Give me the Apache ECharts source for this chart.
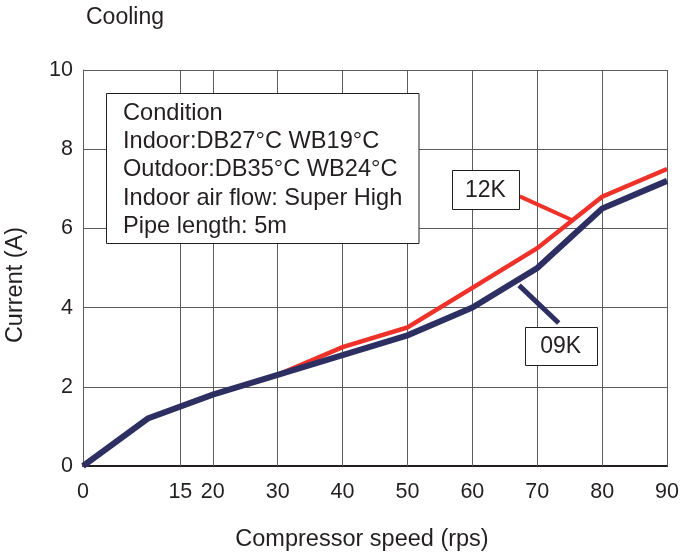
<!DOCTYPE html>
<html>
<head>
<meta charset="utf-8">
<script src="https://cdn.jsdelivr.net/npm/echarts@6/dist/echarts.min.js"></script>
<style>html,body{margin:0;padding:0;background:#fff}#c{width:682px;height:559px}</style>
</head>
<body>
<div id="c"></div>
<script>
// ---- data ----
const speed = [0, 10, 20, 30, 40, 50, 60, 70, 80, 90];
const current09K = [0, 1.2, 1.8, 2.3, 2.8, 3.3, 4.0, 5.0, 6.5, 7.2];
const current12K = [0, 1.2, 1.8, 2.3, 3.0, 3.5, 4.5, 5.5, 6.8, 7.5];
const xTickLabels = [0, 15, 20, 30, 40, 50, 60, 70, 80, 90];
const yTicks = [0, 2, 4, 6, 8, 10];
const conditionLines = ['Condition', 'Indoor:DB27°C WB19°C', 'Outdoor:DB35°C WB24°C', 'Indoor air flow: Super High', 'Pipe length: 5m'];
const seriesNames = ['12K', '09K'];
// label anchors in data units: [boxX, boxY, leaderFromX, leaderFromY, leaderToX, leaderToY]
const label12K = [62.0, 6.97, 67.3, 6.81, 75.5, 6.2];
const label09K = [73.6, 3.03, 73.3, 3.61, 67.2, 4.56];

const FONT = 'Liberation Sans';
const TXT = '#231f20';
const RED = '#ee3129';
const NAVY = '#2d2f62';
const GRID = '#5c5c5c';

const chart = echarts.init(document.getElementById('c'), null, {renderer: 'canvas'});
const pair = (xs, ys) => xs.map((x, i) => [x, ys[i]]);

chart.setOption({
  animation: false,
  backgroundColor: '#fff',
  grid: {left: 83, right: 10, top: 70, bottom: 93, containLabel: false},
  xAxis: [{
    type: 'value', min: 0, max: 90, interval: 5, position: 'bottom',
    axisLine: {show: true, onZero: false, lineStyle: {color: TXT, width: 1.5}},
    axisTick: {show: false},
    splitLine: {show: false},
    axisLabel: {
      color: TXT, fontFamily: FONT, fontSize: 21.5, margin: 15,
      formatter: v => xTickLabels.indexOf(v) >= 0 ? String(v) : ''
    }
  }, {
    type: 'value', min: 0, max: 90, position: 'top',
    axisLine: {show: true, lineStyle: {color: TXT, width: 2}},
    axisTick: {show: false}, axisLabel: {show: false}, splitLine: {show: false}
  }],
  yAxis: {
    type: 'value', min: 0, max: 10, interval: 2,
    axisLine: {show: true, lineStyle: {color: GRID, width: 1}},
    axisTick: {show: false},
    splitLine: {show: true, lineStyle: {color: GRID, width: 1}},
    axisLabel: {color: TXT, fontFamily: FONT, fontSize: 21.5, margin: 10,
      formatter: v => yTicks.indexOf(v) >= 0 ? String(v) : ''}
  },
  series: [{
    name: seriesNames[0], type: 'line', data: pair(speed, current12K),
    showSymbol: false, symbol: 'none', z: 3,
    lineStyle: {color: RED, width: 4.5, join: 'miter'},
    markLine: {
      silent: true, symbol: 'none', z: 1, label: {show: false},
      lineStyle: {color: GRID, width: 1, type: 'solid'},
      data: xTickLabels.filter(v => v > 0).map(v => ({xAxis: v}))
    }
  }, {
    name: seriesNames[1], type: 'line', data: pair(speed, current09K),
    showSymbol: false, symbol: 'none', z: 4,
    lineStyle: {color: NAVY, width: 6, join: 'miter'}
  }]
});

function px(x, y) { return chart.convertToPixel({gridIndex: 0}, [x, y]); }

const graphics = [];
// title
graphics.push({type: 'text', x: 86, y: 18, z: 10,
  style: {text: 'Cooling', fontFamily: FONT, fontSize: 23, fill: TXT, verticalAlign: 'middle'}});
// axis names
graphics.push({type: 'text', x: 362, y: 540, z: 10,
  style: {text: 'Compressor speed (rps)', fontFamily: FONT, fontSize: 23.5, fill: TXT, align: 'center', verticalAlign: 'middle'}});
graphics.push({type: 'text', x: 16, y: 285, rotation: Math.PI / 2, z: 10,
  style: {text: 'Current (A)', fontFamily: FONT, fontSize: 23.5, fill: TXT, align: 'center', verticalAlign: 'middle'}});
// condition box
graphics.push({type: 'rect', z: 10, shape: {x: 106.5, y: 93.5, width: 312.5, height: 150},
  style: {fill: '#fff', stroke: TXT, lineWidth: 1}});
conditionLines.forEach((t, i) => {
  graphics.push({type: 'text', z: 11, x: 123, y: 113 + i * 28.4,
    style: {text: t, fontFamily: FONT, fontSize: 23.6, fill: TXT, verticalAlign: 'middle'}});
});
// series labels + leaders
function addLabel(txt, a, color, lw, w, h) {
  const c = px(a[0], a[1]);
  const p1 = px(a[2], a[3]);
  const p2 = px(a[4], a[5]);
  graphics.push({type: 'line', z: 9, shape: {x1: p1[0], y1: p1[1], x2: p2[0], y2: p2[1]},
    style: {stroke: color, lineWidth: lw}});
  graphics.push({type: 'rect', z: 10, shape: {x: Math.round(c[0] - w / 2) + 0.5, y: Math.round(c[1] - h / 2) + 0.5, width: w, height: h},
    style: {fill: '#fff', stroke: TXT, lineWidth: 1}});
  graphics.push({type: 'text', z: 11, x: c[0], y: c[1] + 1,
    style: {text: txt, fontFamily: FONT, fontSize: 23, fill: TXT, align: 'center', verticalAlign: 'middle'}});
}
addLabel(seriesNames[0], label12K, RED, 4, 67, 39);
addLabel(seriesNames[1], label09K, NAVY, 5, 72, 38);

chart.setOption({graphic: graphics});
</script>
</body>
</html>
